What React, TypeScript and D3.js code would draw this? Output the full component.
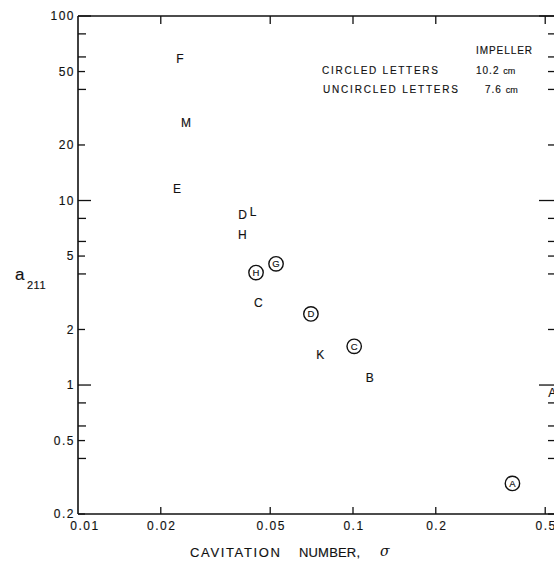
import React from "react";
import * as d3 from "d3";

// Uncircled letters: impeller 7.6 cm
const smallLabels = ["F", "M", "E", "D", "L", "H", "C", "K", "B", "A"];
const smallSigma = [0.0235, 0.0247, 0.0229, 0.0397, 0.0433, 0.0396, 0.0453, 0.076, 0.115, 0.53];
const smallA = [58.8, 26.5, 11.6, 8.37, 8.72, 6.54, 2.78, 1.46, 1.1, 0.905];

// Circled letters: impeller 10.2 cm
const bigLabels = ["H", "G", "D", "C", "A"];
const bigSigma = [0.0444, 0.0525, 0.0703, 0.101, 0.38];
const bigA = [4.07, 4.54, 2.43, 1.62, 0.293];

const xTickValues = [0.01, 0.02, 0.05, 0.1, 0.2, 0.5];
const xTickLabels = ["0.01", "0.02", "0.05", "0.1", "0.2", "0.5"];
const yTickValues = [100, 50, 20, 10, 5, 2, 1, 0.5, 0.2];
const yTickLabels = ["100", "50", "20", "10", "5", "2", "1", "0.5", "0.2"];
const yMinorValues = [80, 60, 40, 8, 6, 4, 0.8, 0.6, 0.4];

const W = 554;
const H = 568;
const left = 78;
const top = 16;
const bottom = 514;
const rightAxis = 556;

const font = "'Liberation Sans', Arial, sans-serif";
const ink = "#111";
const heavy = { stroke: ink, strokeWidth: 0.15 };

export default function App() {
  const x = d3.scaleLog().domain([0.01, 0.5]).range([left, 78 + Math.log10(50) * 275]);
  const y = d3.scaleLog().domain([0.2, 100]).range([bottom, top]);
  const isDecade = (v: number) => Math.abs(Math.log10(v) - Math.round(Math.log10(v))) < 1e-9;

  return (
    <svg
      width={W}
      height={H}
      style={{ position: "absolute", left: 0, top: 0, background: "#fff" }}
      fontFamily={font}
    >
      <rect x={0} y={0} width={W} height={H} fill="#fff" />
      {/* frame */}
      <line x1={left} y1={top} x2={left} y2={bottom} stroke={ink} strokeWidth={1.6} />
      <line x1={left} y1={bottom} x2={W} y2={bottom} stroke={ink} strokeWidth={1.6} />
      <line x1={left} y1={top} x2={W} y2={top} stroke={ink} strokeWidth={1.4} />

      {/* x ticks bottom + top */}
      {xTickValues.slice(1).map((v) => (
        <g key={"xt" + v}>
          <line x1={x(v)} x2={x(v)} y1={bottom} y2={bottom - 7} stroke={ink} strokeWidth={1.3} />
          <line x1={x(v)} x2={x(v)} y1={top} y2={top + 8} stroke={ink} strokeWidth={1.3} />
        </g>
      ))}
      {xTickValues.map((v, i) => (
        <text
          key={"xl" + v}
          x={x(v) + (i === 0 ? 7 : 1)}
          y={526}
          dy="0.35em"
          textAnchor="middle"
          fontSize={12}
          letterSpacing={1.5}
          fill={ink}
          {...heavy}
        >
          {xTickLabels[i]}
        </text>
      ))}

      {/* y ticks left + right */}
      {yTickValues.map((v) => {
        const len = isDecade(v) ? 13 : 7;
        const rlen = isDecade(v) ? 17 : 8;
        return (
          <g key={"yt" + v}>
            <line x1={left} x2={left + len} y1={y(v)} y2={y(v)} stroke={ink} strokeWidth={1.3} />
            <line x1={rightAxis} x2={rightAxis - rlen} y1={y(v)} y2={y(v)} stroke={ink} strokeWidth={1.3} />
          </g>
        );
      })}
      {yMinorValues.map((v) => (
        <g key={"ym" + v}>
          <line x1={left} x2={left + 8} y1={y(v)} y2={y(v)} stroke={ink} strokeWidth={1.3} />
          <line x1={rightAxis} x2={rightAxis - 8} y1={y(v)} y2={y(v)} stroke={ink} strokeWidth={1.3} />
        </g>
      ))}
      {yTickValues.map((v, i) => (
        <text
          key={"yl" + v}
          x={75}
          y={y(v)}
          dy="0.35em"
          textAnchor="end"
          fontSize={12}
          letterSpacing={1.5}
          fill={ink}
          {...heavy}
        >
          {yTickLabels[i]}
        </text>
      ))}

      {/* axis titles */}
      <text x={15} y={274} dy="0.35em" fontSize={17} fill={ink} {...heavy}>a</text>
      <text x={27} y={285} dy="0.35em" fontSize={11} letterSpacing={0.5} fill={ink} {...heavy}>211</text>

      <text x={190} y={552} dy="0.35em" fontSize={13} textLength={90} lengthAdjust="spacing" fill={ink} {...heavy}>CAVITATION</text>
      <text x={299} y={552} dy="0.35em" fontSize={13} textLength={61} lengthAdjust="spacing" fill={ink} {...heavy}>NUMBER,</text>
      <text x={380} y={551} dy="0.35em" fontSize={14} fontStyle="italic" fontFamily="'DejaVu Serif', serif" fill={ink}>σ</text>

      {/* legend */}
      <text x={476} y={50} dy="0.35em" fontSize={10} textLength={56} lengthAdjust="spacing" fill={ink} {...heavy}>IMPELLER</text>
      <text x={322} y={70} dy="0.35em" fontSize={10} textLength={116} lengthAdjust="spacing" fill={ink} {...heavy}>CIRCLED LETTERS</text>
      <text x={476} y={70} dy="0.35em" fontSize={10} fill={ink} {...heavy}>
        <tspan letterSpacing={1}>10.2 </tspan>
        <tspan fontSize={9}>cm</tspan>
      </text>
      <text x={323} y={89} dy="0.35em" fontSize={10} textLength={135} lengthAdjust="spacing" fill={ink} {...heavy}>UNCIRCLED LETTERS</text>
      <text x={485} y={89} dy="0.35em" fontSize={10} fill={ink} {...heavy}>
        <tspan letterSpacing={1}>7.6 </tspan>
        <tspan fontSize={9}>cm</tspan>
      </text>

      {/* uncircled letters */}
      {smallLabels.map((lab, i) => (
        <text
          key={"s" + i}
          x={x(smallSigma[i])}
          y={y(smallA[i])}
          dy="0.35em"
          textAnchor="middle"
          fontSize={12}
          fill={ink}
          {...heavy}
        >
          {lab}
        </text>
      ))}

      {/* circled letters */}
      {bigLabels.map((lab, i) => (
        <g key={"b" + i} transform={`translate(${x(bigSigma[i])},${y(bigA[i])})`}>
          <circle r={7.2} fill="none" stroke={ink} strokeWidth={1.4} />
          <text dy="0.35em" textAnchor="middle" fontSize={9.5} fill={ink} {...heavy}>
            {lab}
          </text>
        </g>
      ))}
    </svg>
  );
}
